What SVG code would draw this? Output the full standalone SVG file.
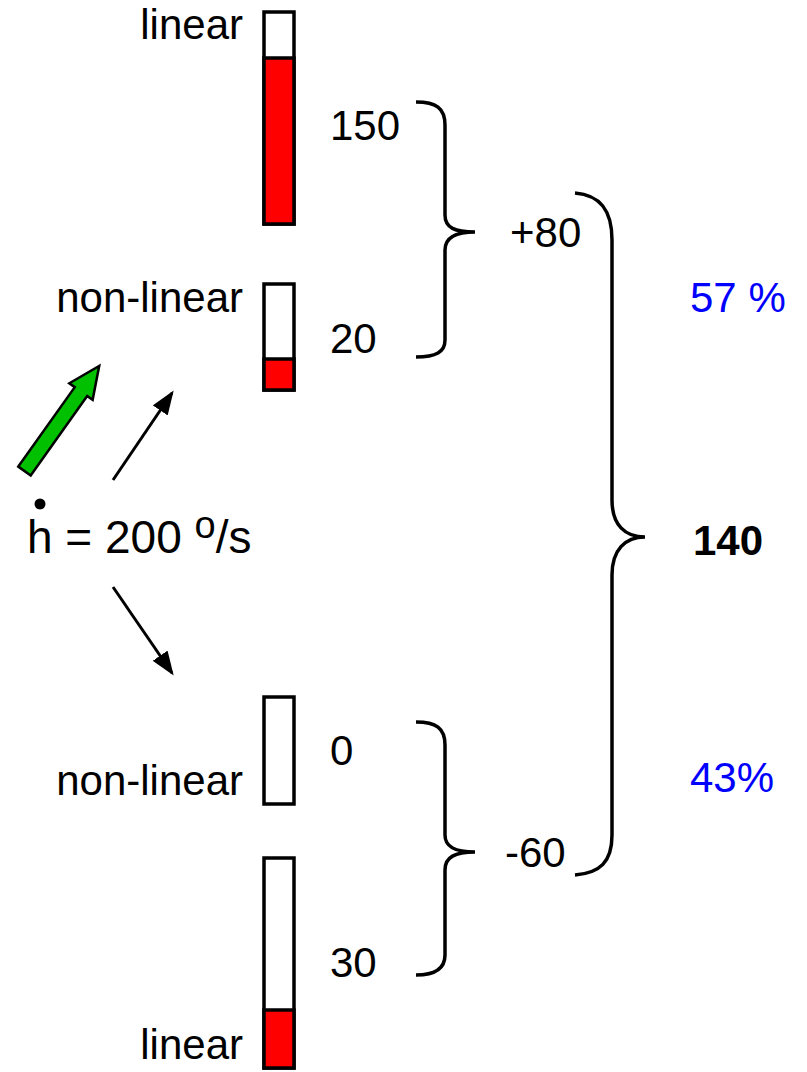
<svg xmlns="http://www.w3.org/2000/svg" width="807" height="1072" viewBox="0 0 807 1072">
<style>
.t{font-family:"Liberation Sans",Arial,sans-serif;font-size:42px;fill:#000}
.b{fill:#fff;stroke:#000;stroke-width:3.5}
.r{fill:#ff0000;stroke:#000;stroke-width:3.5}
.br{fill:none;stroke:#000;stroke-width:3.5}
.ar{stroke:#000;stroke-width:3;fill:none}
</style>
<defs>
<marker id="ah" markerWidth="8" markerHeight="6" refX="7" refY="3" orient="auto" markerUnits="strokeWidth">
<path d="M0,0 L8,3 L0,6 Z" fill="#000"/>
</marker>
</defs>
<rect width="807" height="1072" fill="#fff"/>
<g id="bar-top-linear">
<rect class="b" x="264" y="12" width="30" height="212"/>
<rect class="r" x="264" y="58" width="30" height="166"/>
<text class="t" x="243" y="39" text-anchor="end">linear</text>
<text class="t" x="330" y="140">150</text>
</g>
<g id="bar-top-nonlinear">
<rect class="b" x="264" y="284" width="30" height="106"/>
<rect class="r" x="264" y="359" width="30" height="31"/>
<text class="t" x="243" y="312" text-anchor="end">non-linear</text>
<text class="t" x="330" y="353">20</text>
</g>
<g id="bar-bottom-nonlinear">
<rect class="b" x="264" y="697" width="30" height="107"/>
<text class="t" x="243" y="795" text-anchor="end">non-linear</text>
<text class="t" x="330" y="765">0</text>
</g>
<g id="bar-bottom-linear">
<rect class="b" x="264" y="858" width="30" height="210"/>
<rect class="r" x="264" y="1010" width="30" height="58"/>
<text class="t" x="243" y="1059" text-anchor="end">linear</text>
<text class="t" x="330" y="977">30</text>
</g>
<g id="rate">
<circle cx="40" cy="504" r="5.5" fill="#000"/>
<text class="t" x="27" y="553" font-size="46" style="font-size:46px">h = 200 <tspan style="font-size:38px" dy="-15">o</tspan><tspan dy="15">/s</tspan></text>
<polygon transform="translate(24.5,471) rotate(-54.6)" points="0,-7.6 97.5,-7.6 97.5,-14.3 129,0 97.5,14.3 97.5,7.6 0,7.6" fill="#00c000" stroke="#000" stroke-width="2.5" stroke-linejoin="miter"/>
</g>
<g id="sum-top">
<text class="t" x="510" y="247">+80</text>
</g>
<g id="sum-bottom">
<text class="t" x="505" y="867">-60</text>
</g>
<g id="total">
<text class="t" x="693" y="555" font-weight="bold">140</text>
<text class="t" x="690" y="312" style="fill:#0000ff">57 %</text>
<text class="t" x="690" y="792" style="fill:#0000ff">43%</text>
</g>
<g id="connectors">
<line class="ar" x1="113" y1="480" x2="172" y2="393" marker-end="url(#ah)"/>
<line class="ar" x1="113" y1="587" x2="172" y2="673" marker-end="url(#ah)"/>
<path class="br" d="M416,102 C436,102 445,108 445,125 L445,215 C445,228 455,232 475,232 C455,232 445,238 445,250 L445,340 C445,352 436,357 416,357"/>
<path class="br" d="M575,193 C600,195 612,210 612,240 L612,500 C612,525 625,537 645,537 C625,537 612,550 612,575 L612,835 C612,862 600,873 575,875"/>
<path class="br" d="M416,722 C436,722 445,728 445,745 L445,835 C445,847 455,852 475,852 C455,852 445,857 445,870 L445,955 C445,968 436,975 416,975"/>
</g>
</svg>
